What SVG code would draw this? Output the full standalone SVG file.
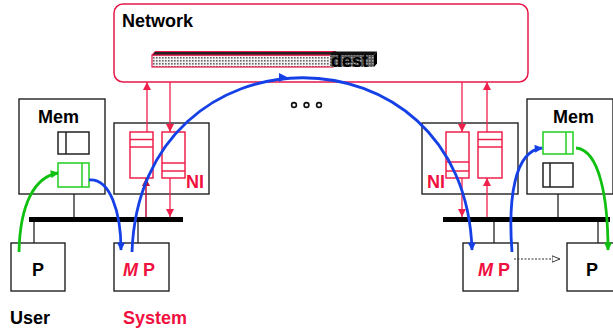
<svg xmlns="http://www.w3.org/2000/svg" width="613" height="329" viewBox="0 0 613 329">
<style>
.box{fill:#fff;stroke:#222;stroke-width:1.4}
.lbl{font-family:"Liberation Sans",Arial,sans-serif;font-weight:bold;font-size:18px;fill:#000}
.red{fill:#f0103f}
.q{fill:#fff;stroke:#f0204c;stroke-width:1.5}
.ql{stroke:#f0204c;stroke-width:1.5}
.ra{stroke:#f0204c;stroke-width:1.3;fill:none}
.rad{stroke:#b8103a;stroke-width:1.5;fill:none}
.bus{stroke:#000;stroke-width:5}
.tap{stroke:#222;stroke-width:1.3}
.blue{stroke:#1440e6;stroke-width:2.8;fill:none}
.green{stroke:#10c010;stroke-width:2.8;fill:none}
.gb{fill:#fff;stroke:#20d020;stroke-width:1.5}
.kb{fill:#fff;stroke:#222;stroke-width:1.5}
</style>
<defs>
<pattern id="dots" patternUnits="userSpaceOnUse" width="3" height="3">
<rect width="3" height="3" fill="#f2f2f2"/>
<rect x="0" y="0" width="1.6" height="1.6" fill="#666"/>
</pattern>
<pattern id="ddots" patternUnits="userSpaceOnUse" width="3" height="3">
<rect width="3" height="3" fill="#555"/>
<rect x="0" y="0" width="1.5" height="1.5" fill="#aaa"/>
</pattern>
<marker id="ar" viewBox="0 0 10 10" refX="10" refY="5" markerWidth="8" markerHeight="8" markerUnits="userSpaceOnUse" orient="auto"><path d="M0,0L10,5L0,10z" fill="#f0204c"/></marker>
<marker id="ard" viewBox="0 0 10 10" refX="10" refY="5" markerWidth="8" markerHeight="8" markerUnits="userSpaceOnUse" orient="auto"><path d="M0,0L10,5L0,10z" fill="#b8103a"/></marker>
<marker id="ab" viewBox="0 0 10 10" refX="9" refY="5" markerWidth="9" markerHeight="8" markerUnits="userSpaceOnUse" orient="auto"><path d="M0,0L10,5L0,10z" fill="#1440e6"/></marker>
<marker id="ag" viewBox="0 0 10 10" refX="9" refY="5" markerWidth="9" markerHeight="8" markerUnits="userSpaceOnUse" orient="auto"><path d="M0,0L10,5L0,10z" fill="#10c010"/></marker>
<marker id="ak" viewBox="0 0 10 10" refX="10" refY="5" markerWidth="9" markerHeight="8" markerUnits="userSpaceOnUse" orient="auto"><path d="M0,1L10,5L0,9z" fill="#fff" stroke="#333" stroke-width="1.2"/></marker>
</defs>

<g id="network">
<rect x="114" y="4" width="414" height="78" rx="9" fill="#fff" stroke="#e8174a" stroke-width="1.5"/>
<text class="lbl" x="122" y="27">Network</text>
<g id="packet">
<rect x="152" y="55" width="181" height="12" fill="url(#dots)" stroke="#e8174a" stroke-width="1.2"/>
<polygon points="152,55 155,51.5 336,51.5 333,55" fill="#222" stroke="#e8174a" stroke-width="1"/>
<rect x="330" y="55" width="44" height="12" fill="url(#ddots)"/>
<polygon points="330,55 333,51.5 377,51.5 374,55" fill="#111"/>
<polygon points="374,55 377,51.5 377,63.5 374,67" fill="#000"/>
<text x="331" y="67" font-family="'Liberation Sans',Arial,sans-serif" font-weight="bold" font-size="18" fill="#000">dest</text>
</g>
</g>

<g id="dots3" fill="none" stroke="#111" stroke-width="1.6">
<circle cx="294" cy="105" r="2.4"/>
<circle cx="306.5" cy="105" r="2.4"/>
<circle cx="319" cy="105" r="2.4"/>
</g>

<g id="mem-left">
<rect class="box" x="19" y="99" width="86" height="95"/>
<text class="lbl" x="38" y="123">Mem</text>
<rect class="kb" x="58" y="132" width="31" height="22"/>
<line x1="66" y1="132" x2="66" y2="154" stroke="#222" stroke-width="1.5"/>
<rect class="gb" x="58" y="163" width="31" height="24"/>
<line x1="82" y1="163" x2="82" y2="187" stroke="#20d020" stroke-width="1.5"/>
</g>

<g id="ni-left">
<rect class="box" x="114" y="123" width="95" height="71"/>
<rect class="q" x="130" y="132" width="23" height="46"/>
<line class="ql" x1="130" y1="139.5" x2="153" y2="139.5"/>
<line class="ql" x1="130" y1="147" x2="153" y2="147"/>
<rect class="q" x="162" y="132" width="23" height="46"/>
<line class="ql" x1="162" y1="163" x2="185" y2="163"/>
<line class="ql" x1="162" y1="171" x2="185" y2="171"/>
<text class="lbl red" x="186" y="188">NI</text>
</g>

<g id="ni-right">
<rect class="box" x="422" y="123" width="96" height="71"/>
<rect class="q" x="446" y="132" width="23" height="46"/>
<line class="ql" x1="446" y1="162" x2="469" y2="162"/>
<line class="ql" x1="446" y1="171" x2="469" y2="171"/>
<rect class="q" x="478" y="132" width="24" height="46"/>
<line class="ql" x1="478" y1="139.5" x2="502" y2="139.5"/>
<line class="ql" x1="478" y1="147" x2="502" y2="147"/>
<text class="lbl red" x="427" y="188">NI</text>
</g>

<g id="mem-right">
<rect class="box" x="527" y="99" width="86" height="95"/>
<text class="lbl" x="553" y="123">Mem</text>
<rect class="gb" x="543" y="132" width="30" height="22"/>
<line x1="566" y1="132" x2="566" y2="154" stroke="#20d020" stroke-width="1.5"/>
<rect class="kb" x="543" y="163" width="30" height="24"/>
<line x1="550" y1="163" x2="550" y2="187" stroke="#222" stroke-width="1.5"/>
</g>

<g id="p-left">
<rect class="box" x="11" y="243" width="54" height="48"/>
<text class="lbl" x="38" y="276" text-anchor="middle">P</text>
</g>
<g id="mp-left">
<rect class="box" x="114" y="243" width="55" height="48"/>
<text class="lbl red" x="123" y="276"><tspan font-style="italic">M</tspan> P</text>
</g>
<g id="mp-right">
<rect class="box" x="463" y="243" width="55" height="48"/>
<text class="lbl red" x="478" y="276"><tspan font-style="italic">M</tspan> P</text>
</g>
<g id="p-right">
<rect class="box" x="567" y="243" width="48" height="48"/>
<text class="lbl" x="592" y="276" text-anchor="middle">P</text>
</g>

<g id="labels">
<text class="lbl" x="10" y="324">User</text>
<text class="lbl red" x="123" y="324">System</text>
</g>

<g id="connectors">
<line class="bus" x1="29" y1="219.5" x2="183" y2="219.5"/>
<line class="bus" x1="443" y1="219.5" x2="610" y2="219.5"/>
<line class="tap" x1="74" y1="194" x2="74" y2="217"/>
<line class="tap" x1="34" y1="222" x2="34" y2="243"/>
<line class="tap" x1="138" y1="222" x2="138" y2="243"/>
<line class="tap" x1="558" y1="194" x2="558" y2="217"/>
<line class="tap" x1="494" y1="222" x2="494" y2="243"/>
<line class="tap" x1="598" y1="222" x2="598" y2="243"/>

<line class="rad" x1="146" y1="217" x2="146" y2="178" marker-end="url(#ard)"/>
<line class="ra" x1="147" y1="132" x2="147" y2="82" marker-end="url(#ar)"/>
<line class="ra" x1="170" y1="82" x2="170" y2="132" marker-end="url(#ar)"/>
<line class="ra" x1="170" y1="178" x2="170" y2="217" marker-end="url(#ar)"/>
<line class="ra" x1="462" y1="82" x2="462" y2="132" marker-end="url(#ar)"/>
<line class="ra" x1="462" y1="178" x2="462" y2="217" marker-end="url(#ar)"/>
<line class="ra" x1="487" y1="217" x2="487" y2="178" marker-end="url(#ar)"/>
<line class="ra" x1="487" y1="132" x2="487" y2="82" marker-end="url(#ar)"/>

<path class="blue" d="M89,180 C110,178 121,212 121,250" marker-end="url(#ab)"/>
<path class="blue" d="M132,252 C140,20 465,20 472,250" marker-end="url(#ab)"/>
<polygon points="288,77.5 279,73 279,82" fill="#1440e6"/>
<path class="blue" d="M512,252 C508,200 514,151 542,148" marker-end="url(#ab)"/>

<path class="green" d="M19,252 C20,205 34,177 58,173" marker-end="url(#ag)"/>
<path class="green" d="M576,148 C600,150 608,200 608,250" marker-end="url(#ag)"/>

<line x1="514" y1="259" x2="560" y2="259" stroke="#333" stroke-width="1.2" stroke-dasharray="2,1.5" marker-end="url(#ak)"/>
</g>
</svg>
